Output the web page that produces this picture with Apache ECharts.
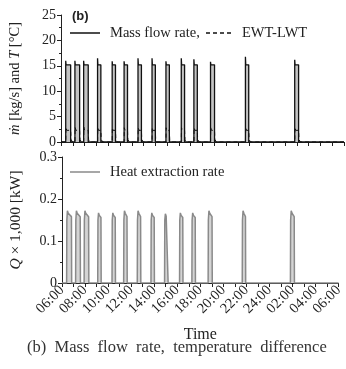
<!DOCTYPE html>
<html>
<head>
<meta charset="utf-8">
<script src="https://cdn.jsdelivr.net/npm/echarts@6/dist/echarts.min.js"></script>
<style>
  html, body { margin: 0; padding: 0; background: #fff; }
  #chart { width: 346px; height: 369px; }
</style>
</head>
<body>
<div id="chart"></div>
<script>
// hours after 06:00 when the pump switches on / off
const onStart = [0.40, 1.18, 1.92, 3.10, 4.34, 5.35, 6.53, 7.72, 8.90, 10.20, 11.27, 12.68, 15.64, 19.82];
const onEnd   = [0.82, 1.58, 2.31, 3.38, 4.62, 5.64, 6.82, 8.00, 9.19, 10.48, 11.56, 13.02, 15.92, 20.15];

// mass flow rate [kg/s]: start spike and running value
const flowPeak = [16.0, 16.0, 16.0, 16.5, 15.9, 15.9, 16.5, 16.5, 15.9, 16.5, 16.3, 15.8, 16.8, 16.2];
const flowOn   = [15.2, 15.2, 15.2, 15.2, 15.2, 15.2, 15.2, 15.2, 15.2, 15.2, 15.2, 15.2, 15.2, 15.2];

// EWT-LWT [°C]
const dtPeak = [2.9, 2.9, 2.9, 2.8, 2.8, 2.8, 2.8, 2.8, 2.8, 2.8, 2.8, 2.8, 2.9, 2.9];
const dtOn   = [2.3, 2.3, 2.3, 2.3, 2.3, 2.3, 2.3, 2.3, 2.3, 2.3, 2.3, 2.3, 2.3, 2.3];

// heat extraction rate Q x 1,000 [kW]
const qPeak = [0.172, 0.172, 0.172, 0.167, 0.167, 0.172, 0.172, 0.167, 0.165, 0.167, 0.167, 0.172, 0.172, 0.172];
const qOn   = [0.158, 0.158, 0.158, 0.156, 0.156, 0.158, 0.158, 0.156, 0.155, 0.156, 0.156, 0.158, 0.158, 0.158];

const timeLabels = ['06:00', '08:00', '10:00', '12:00', '14:00', '16:00', '18:00',
  '20:00', '22:00', '24:00', '02:00', '04:00', '06:00'];

function flowData() {
	const pts = [[0, 0]];
	onStart.forEach(( s, i ) => {
		const e = onEnd[i];
		pts.push([s, 0], [s, flowPeak[i]], [s + 0.03, flowOn[i]], [e, flowOn[i]], [e, 0]);
	});
	pts.push([24, 0]);
	return pts;
}

function dtData() {
	const pts = [[0, 0]];
	onStart.forEach(( s, i ) => {
		const e = onEnd[i];
		pts.push([s, 0], [s + 0.02, dtPeak[i]], [s + 0.08, dtOn[i]], [e, dtOn[i]], [e + 0.03, 0.5], [e + 0.15, 0]);
	});
	pts.push([24, 0]);
	return pts;
}

function qData() {
	const pts = [[0, 0]];
	onStart.forEach(( s, i ) => {
		const e = onEnd[i];
		pts.push([s, 0], [s + 0.02, 0.15], [s + 0.07, qPeak[i]], [s + 0.14, qPeak[i] - 0.006], [e, qOn[i]], [e + 0.02, 0]);
	});
	pts.push([24, 0]);
	return pts;
}

const serif = 'Liberation Serif';
const ink = '#222';

function xAxis( grid, showLabels ) {
	return {
		type: 'value', gridIndex: grid, min: 0, max: 24, interval: 2,
		axisLine: { lineStyle: { color: ink, width: 1 } },
		axisTick: { show: true, length: 4, lineStyle: { color: ink } },
		minorTick: { show: true, splitNumber: 2, length: 4, lineStyle: { color: ink } },
		splitLine: { show: false },
		axisLabel: {
			show: showLabels, rotate: 45, margin: 5,
			fontFamily: serif, fontSize: 14.5, color: ink,
			formatter: v => timeLabels[Math.round(v / 2)]
		},
		name: showLabels ? 'Time' : '',
		nameLocation: 'middle', nameGap: 44,
		nameTextStyle: { fontFamily: serif, fontSize: 16, color: ink }
	};
}

function yAxis( grid, max, step, name, size ) {
	return {
		type: 'value', gridIndex: grid, min: 0, max: max, interval: step,
		axisLine: { show: true, lineStyle: { color: ink } },
		axisTick: { show: true, length: 4, lineStyle: { color: ink } },
		minorTick: { show: true, splitNumber: 2, length: 2, lineStyle: { color: ink } },
		splitLine: { show: false },
		axisLabel: { fontFamily: serif, fontSize: 14, color: ink, margin: 5 },
		name: name,
		nameLocation: 'middle', nameGap: 38, nameRotate: 90,
		nameTextStyle: {
			fontFamily: serif, fontSize: size, color: ink,
			rich: { i: { fontFamily: serif, fontSize: size, fontStyle: 'italic', color: ink } }
		}
	};
}

function legendLine( x1, x2, y, color, dash ) {
	return {
		type: 'line', shape: { x1: x1, y1: y, x2: x2, y2: y },
		style: { stroke: color, lineWidth: 1.5, lineDash: dash }
	};
}

function legendText( x, y, text ) {
	return {
		type: 'text', x: x, y: y,
		style: { text: text, font: '14.5px "Liberation Serif"', fill: ink, verticalAlign: 'middle' }
	};
}

const chart = echarts.init(document.getElementById('chart'));

chart.setOption({
	animation: false,
	backgroundColor: '#fff',
	grid: [
		{ left: 60, top: 15, width: 284, height: 127 },
		{ left: 60, top: 157, width: 284, height: 126 }
	],
	xAxis: [xAxis(0, false), xAxis(1, true)],
	yAxis: [
		yAxis(0, 25, 5, '{i|ṁ} [kg/s] and {i|T} [°C]', 14.5),
		yAxis(1, 0.3, 0.1, '{i|Q} × 1,000 [kW]', 15.5)
	],
	series: [
		{
			name: 'Mass flow rate,', type: 'line', xAxisIndex: 0, yAxisIndex: 0,
			data: flowData(), symbol: 'none', color: '#111',
			lineStyle: { color: '#111', width: 1.3 },
			areaStyle: { color: '#c4c4c4', opacity: 1 }
		},
		{
			name: 'EWT-LWT', type: 'line', xAxisIndex: 0, yAxisIndex: 0,
			data: dtData(), symbol: 'none', color: '#111',
			lineStyle: { color: '#111', width: 1, type: [4, 3] }
		},
		{
			name: 'Heat extraction rate', type: 'line', xAxisIndex: 1, yAxisIndex: 1,
			data: qData(), symbol: 'none', color: '#8a8a8a',
			lineStyle: { color: '#8a8a8a', width: 1.5 },
			areaStyle: { color: '#d4d4d4', opacity: 1 }
		}
	],
	graphic: [
		{
			type: 'text', left: 72, top: 10,
			style: { text: '(b)', font: 'bold 13px "Liberation Sans"', fill: ink }
		},
		legendLine(70, 100, 33, '#111', null),
		legendText(110, 33, 'Mass flow rate,'),
		legendLine(206, 231, 33, '#111', [4, 3]),
		legendText(242, 33, 'EWT-LWT'),
		legendLine(70, 100, 172, '#8a8a8a', null),
		legendText(110, 172, 'Heat extraction rate'),
		{
			type: 'text', left: 27, top: 339,
			style: { text: '(b)  Mass  flow  rate,  temperature  difference', font: '16.5px "Liberation Serif"', fill: '#333' }
		}
	]
});
</script>
</body>
</html>
